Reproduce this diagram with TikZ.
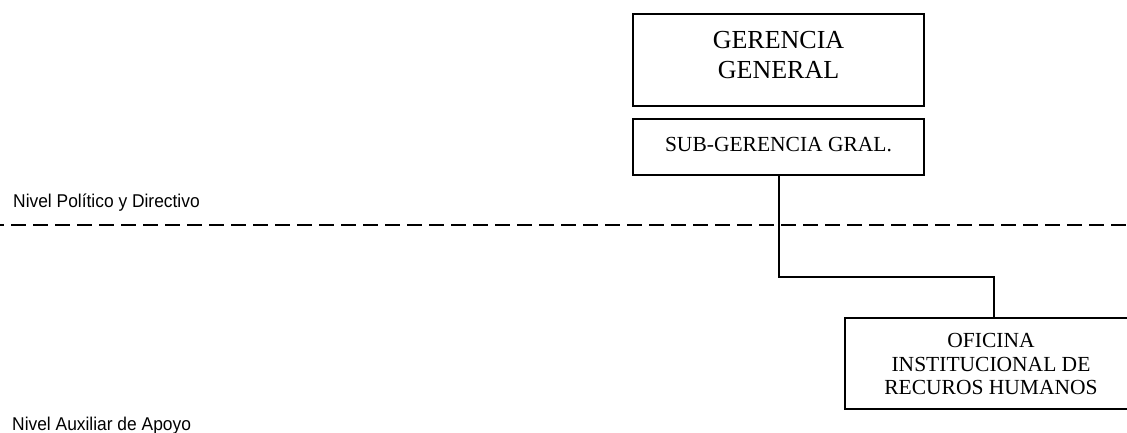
\documentclass[tikz,border=0pt]{standalone}
\usepackage{fontspec}
\setmainfont{Liberation Serif}
\newfontfamily\levelfont[FakeStretch=0.94]{Liberation Sans}
\usetikzlibrary{calc}
\begin{document}
\begin{tikzpicture}[x=1pt,y=-1pt,
  box/.style={draw, line width=2pt, inner sep=0pt, anchor=north west},
  boxtext/.style={inner sep=0pt, align=center},
  link/.style={line width=2pt},
  levelline/.style={line width=2pt, dash pattern=on 15pt off 7pt, dash phase=11pt},
  leveltext/.style={font=\levelfont\fontsize{18.5}{22}\selectfont, anchor=base west, inner sep=0pt},
]
\useasboundingbox (0,0) rectangle (1127,433);

% organisational units
\node[box, minimum width=291pt, minimum height=92pt] (gg) at (632,13) {};
\node[box, minimum width=291pt, minimum height=56pt] (sg) at (632,118) {};
\node[box, minimum width=297pt, minimum height=91pt] (oi) at (844,317) {};

\node[boxtext, anchor=north, font=\fontsize{26}{30}\selectfont] (ggt)
  at ($(gg.north)+(0,18)$) {GERENCIA\\GENERAL};
\node[boxtext, anchor=base, font=\fontsize{21.5}{24}\selectfont] (sgt)
  at ($(sg.north)+(0,34)$) {SUB-GERENCIA GRAL.};
\node[boxtext, anchor=north, font=\fontsize{21.5}{23.5}\selectfont] (oit)
  at ($(oi.north)+(-2.5,16.5)$) {OFICINA\\INSTITUCIONAL DE\\RECUROS HUMANOS};

% level separator
\coordinate (dl) at (0,225);
\coordinate (dr) at (1127,225);
\draw[levelline] (dl) -- (dr);

\node[leveltext] (lvl1) at (13,207) {Nivel Político y Directivo};
\node[leveltext] (lvl2) at (12,430) {Nivel Auxiliar de Apoyo};

% reporting line
\coordinate (mid) at (0,277);
\draw[link] (sg.south) |- (mid -| oi.north) -- (oi.north);
\end{tikzpicture}
\end{document}
